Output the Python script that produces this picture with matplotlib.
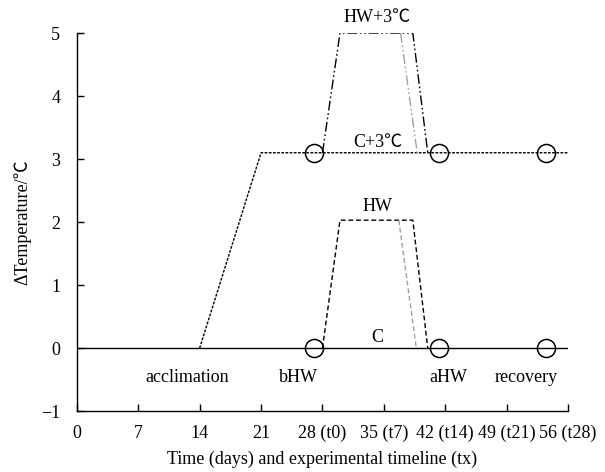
import matplotlib
matplotlib.use('Agg')
import matplotlib.pyplot as plt

plt.rcParams['font.family'] = ['Liberation Serif', 'Noto Sans CJK SC', 'DejaVu Sans']
plt.rcParams['font.size'] = 13

# x positions in days, y in delta temperature
c_x = [0, 56]
c_y = [0, 0]
c3_x = [0, 14, 21, 56]
c3_y = [0, 0, 3.1, 3.1]
hw_x = [28, 30, 38.3, 40]
hw_y = [0, 2.03, 2.03, 0]
hw_grey_x = [36.7, 38.7]
hw_grey_y = [2.03, 0]
hw3_x = [28, 30, 38.3, 40]
hw3_y = [3.1, 5, 5, 3.1]
hw3_grey_x = [36.9, 38.8]
hw3_grey_y = [5, 3.1]

circle_x = [27, 41.3, 53.5]
circle_y0 = [0, 0, 0]
circle_y3 = [3.1, 3.1, 3.1]

phase_labels = ['acclimation', 'bHW', 'aHW', 'recovery']
phase_x = [12.6, 25.3, 42.3, 51.2]

xticks = [0, 7, 14, 21, 28, 35, 42, 49, 56]
xticklabels = ['0', '7', '14', '21', '28 (t0)', '35 (t7)', '42 (t14)', '49 (t21)', '56 (t28)']
yticks = [-1, 0, 1, 2, 3, 4, 5]

fig = plt.figure(figsize=(6.05, 4.72), dpi=100)
ax = fig.add_axes([0.127, 0.129, 0.812, 0.801])

ax.plot(c_x, c_y, color='black', lw=1)
ax.plot(c3_x[1:], c3_y[1:], color='black', lw=1, dashes=(2, 1))
ax.plot(hw_x, hw_y, color='black', lw=1, dashes=(3.5, 2))
ax.plot(hw_grey_x, hw_grey_y, color='#a0a0a0', lw=1, dashes=(3.5, 2))
ax.plot(hw3_x, hw3_y, color='black', lw=1, dashes=(7, 2, 1.2, 2, 1.2, 2))
ax.plot(hw3_grey_x, hw3_grey_y, color='#a0a0a0', lw=1, dashes=(7, 2, 1.2, 2, 1.2, 2))

ax.plot(circle_x, circle_y0, 'o', ms=13, mfc='none', mec='black', mew=1.1, ls='none')
ax.plot(circle_x, circle_y3, 'o', ms=13, mfc='none', mec='black', mew=1.1, ls='none')

for lab, xp in zip(phase_labels, phase_x):
    ax.text(xp, -0.46, lab, ha='center', va='center')

ax.text(34.2, 5.25, 'HW+3℃', ha='center', va='center', clip_on=False)
ax.text(34.3, 3.27, 'C+3℃', ha='center', va='center')
ax.text(34.3, 2.24, 'HW', ha='center', va='center')
ax.text(34.3, 0.17, 'C', ha='center', va='center')

ax.set_xlim(0, 56)
ax.set_ylim(-1, 5)
ax.set_xticks(xticks)
ax.set_xticklabels(xticklabels)
ax.set_yticks(yticks)
ax.set_yticklabels(['\u22121', '0', '1', '2', '3', '4', '5'])
ax.tick_params(direction='in', length=5, width=1, pad=10)
ax.tick_params(axis='y', pad=12)
ax.spines['top'].set_visible(False)
ax.spines['right'].set_visible(False)
for s in ['left', 'bottom']:
    ax.spines[s].set_linewidth(1)

ax.set_xlabel('Time (days) and experimental timeline (tx)', labelpad=6)
ax.set_ylabel('ΔTemperature/℃', labelpad=7)

fig.savefig('out.png', dpi=100)
